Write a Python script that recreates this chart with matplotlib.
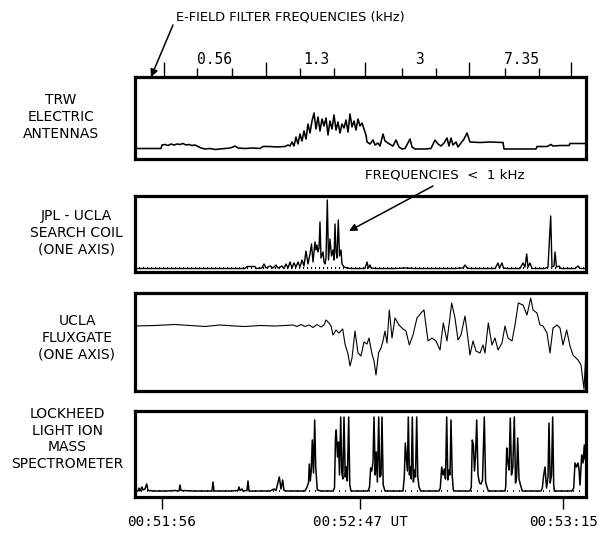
import matplotlib.pyplot as plt
import numpy as np

plt.rcParams['font.family'] = 'DejaVu Sans'

W, H = 600, 533

# --- data (x = position across the panel, y = trace height) ---
trw = np.array([
    (0, 10.5), (26, 10.5), (27, 14), (30, 14.5), (33, 13.5), (36, 15), (39, 14), (42, 15),
    (45, 14.5), (48, 15.5), (51, 14), (54, 14.5), (57, 13.5), (60, 14), (63, 12.5), (66, 11),
    (70, 10), (75, 10.5), (80, 9.5), (85, 10), (90, 10.5), (95, 11), (98, 12), (100, 13),
    (103, 11), (110, 10.5), (118, 11), (125, 10.5), (128, 12.5), (135, 12.5), (142, 12),
    (150, 12.5), (153, 14), (155, 13), (157, 17), (159, 13), (161, 22), (163, 15), (165, 25),
    (167, 18), (169, 28), (171, 20), (173, 35), (175, 26), (177, 38), (179, 46), (181, 30),
    (183, 42), (185, 28), (187, 40), (189, 33), (191, 41), (193, 24), (195, 38), (197, 30),
    (199, 44), (201, 29), (203, 37), (205, 26), (207, 35), (209, 31), (211, 39), (213, 27),
    (215, 45), (217, 32), (219, 38), (221, 29), (223, 40), (225, 33), (227, 36), (229, 30),
    (231, 24), (232, 17), (235, 15), (238, 19), (240, 14), (243, 16), (245, 13), (248, 25),
    (250, 18), (253, 16), (256, 14), (258, 13), (261, 19), (264, 12), (267, 10), (270, 10.5),
    (275, 20), (277, 12), (280, 10), (290, 10), (296, 10.5), (300, 19), (303, 15), (306, 13),
    (309, 16), (312, 21), (314, 13), (316, 21), (318, 14), (321, 17), (323, 12), (326, 16),
    (329, 20), (332, 26), (335, 17), (345, 16.5), (355, 17), (368, 16.5), (369, 10),
    (380, 10), (401, 10), (402, 12.5), (412, 12.5), (416, 14.5), (418, 13), (425, 13.5),
    (434, 13.5), (435, 15.5), (451, 15.5)])

search_coil = np.array([
    (0, 3.5), (110, 3.5), (112, 5.5), (120, 5.5), (121, 3.5), (127, 4), (129, 8), (131, 4),
    (135, 6), (138, 4), (141, 7), (143, 4), (147, 6), (149, 3.5), (151, 8), (153, 4),
    (155, 10), (157, 4), (159, 9), (161, 5), (163, 10), (165, 5), (167, 12), (169, 6),
    (171, 21), (173, 8), (175, 18), (176.5, 28), (178, 10), (180, 30), (181, 22), (182, 27),
    (183, 20), (184, 24), (185, 50), (186, 14), (188, 20), (189, 10), (190, 8), (191, 14),
    (192.3, 72), (193.5, 12), (195, 33), (196.5, 16), (198, 22), (199, 12), (200, 48),
    (201, 20), (202, 14), (203.3, 52), (204.5, 16), (206, 22), (207, 8), (209, 5), (212, 4),
    (216, 3.5), (230, 3.5), (232, 10), (233.5, 4), (235, 7), (236, 4), (240, 3.5),
    (260, 3.5), (270, 4), (280, 3.5), (320, 3.5), (328, 4), (330, 7), (332, 4), (335, 3.5),
    (360, 3.5), (363, 9), (364.5, 4), (367, 9), (368.5, 4), (372, 3.5), (385, 3.5), (388, 9),
    (390, 5), (391.7, 18), (393, 5), (395, 9), (397, 3.5), (410, 3.5), (413, 5),
    (415.7, 56), (417, 5), (419, 6), (420, 20), (421.5, 5), (424, 6), (426, 3.5),
    (440, 3.5), (443, 6), (445, 3.5), (451, 3.5)])

fluxgate = np.array([
    (0, 65), (20, 65.5), (40, 66.5), (55, 65.5), (70, 64.5), (85, 66), (100, 65),
    (110, 64.5), (125, 65.5), (140, 65), (150, 65.5), (158, 66), (162, 64.5), (166, 66.5),
    (170, 64.5), (174, 66), (178, 63.5), (182, 66.5), (186, 64), (189, 66), (191, 71),
    (194, 68), (196, 65), (198, 56), (201, 61), (204, 58), (207.7, 62), (210, 47), (213, 37),
    (215, 25), (217, 33), (220, 60), (223, 38), (226, 35), (229, 49), (232, 47), (234, 53),
    (237, 37), (239, 30), (241, 16), (243.5, 38), (246, 43), (248, 50), (250, 60), (252, 48),
    (254.3, 81), (257, 53), (260, 73), (264, 66), (268, 62), (271, 60), (274.3, 46),
    (278, 56), (282, 73), (286, 78), (289, 81), (293, 50), (297, 53), (301, 50), (305, 41),
    (308.3, 68), (312, 50), (316.7, 88), (320, 73), (323, 51), (326, 56), (330, 75),
    (332, 60), (335, 36), (338, 50), (341, 40), (345, 38), (348, 46), (350, 38),
    (353.3, 68), (357, 46), (360, 53), (363, 41), (367, 48), (370, 65), (373, 53), (377, 50),
    (380, 66), (383.3, 88), (388, 86), (392, 76), (395.7, 93), (398, 81), (402, 78),
    (405, 66), (408, 65), (412, 58), (415, 38), (418, 63), (422, 66), (425, 63), (428, 46),
    (431.7, 61), (435, 45), (438, 36), (443, 31), (446, 26), (449, 2), (451, 41)])

ion_spec = np.array([
    (0, 6), (3, 6), (4, 9), (5, 6), (7, 10), (8, 7), (10, 8), (11.7, 13), (13, 6.5), (20, 6),
    (30, 6), (40, 6.5), (44, 6), (45, 12), (46, 6.5), (60, 6), (77, 6), (78, 15), (79, 6),
    (95, 6), (103, 6.5), (104, 10), (105, 6.5), (107, 8), (108, 6), (112, 6.5), (113, 16),
    (114, 6), (135, 6), (139, 8), (141, 6.5), (144.3, 20), (146, 8), (147.7, 17), (149, 6.5),
    (152, 6), (170, 6), (172, 10), (173.5, 14), (174.3, 33), (175.3, 16), (176.3, 27),
    (177.3, 57), (178.5, 24), (179.7, 77), (180.7, 30), (182.3, 7), (186, 6), (198, 6),
    (199.5, 9), (200.5, 60), (201.2, 67), (202.5, 40), (203.5, 55), (204.5, 22),
    (205.7, 80), (206.8, 25), (207.8, 18), (209, 80), (210.2, 20), (211.2, 30), (212.3, 16),
    (213.7, 80), (214.8, 12), (216, 6), (233, 6), (234.5, 10), (235.7, 29), (236.8, 26),
    (238, 35), (239, 80), (240.2, 22), (241.2, 45), (242.4, 15), (243.7, 80), (244.8, 20),
    (246, 22), (247, 80), (248.2, 12), (250, 6), (268, 6), (269.3, 20), (270.3, 54),
    (271.4, 40), (272.4, 26), (273.3, 80), (274.4, 22), (275.4, 30), (276.3, 18),
    (277.3, 80), (278.4, 15), (279.5, 27), (280.5, 20), (281.7, 80), (282.8, 20), (284, 10),
    (285.7, 6), (304, 6), (305.3, 9), (306.7, 30), (308, 22), (309.4, 28), (310.5, 18),
    (311.7, 80), (312.8, 17), (314, 27), (315, 22), (316, 77), (317.2, 22), (318.3, 7),
    (320, 6), (335, 6), (336.3, 10), (337.3, 57), (338.4, 52), (339.5, 26), (340.5, 40),
    (341.7, 77), (343, 22), (344.5, 14), (346, 13), (347.5, 17), (349.3, 80), (350.6, 15),
    (352, 10), (353.3, 6), (370, 6), (370.7, 10), (371.7, 49), (372.8, 35), (374, 27),
    (375.3, 79), (376.5, 22), (377.8, 30), (379.3, 80), (380.5, 14), (381.6, 20),
    (382.7, 59), (384, 18), (385.5, 12), (387.3, 6), (406, 6), (407.3, 9), (408.7, 22),
    (410, 30), (411.5, 9), (413, 20), (414, 74), (415.2, 14), (416.5, 22), (417.7, 80),
    (418.7, 12), (419.3, 6), (437, 6), (438.7, 9), (440, 34), (441.5, 30), (443, 34),
    (444, 28), (445, 12), (446.7, 42), (448, 34), (449.3, 52), (450, 38), (451, 36)])

# filter-frequency scale along the top
freq_major = [28.5, 130.5, 229.5, 333.5, 436]
freq_minor = [62, 97, 165, 198.5, 267, 301, 370, 403.5]
freq_labels = ['0.56', '1.3', '3', '7.35']

# time ticks along the bottom
time_ticks = [26.7, 225, 428.3]
time_labels = ['00:51:56', '00:52:47 UT', '00:53:15']

panel_names = ['TRW\nELECTRIC\nANTENNAS',
               'JPL - UCLA\nSEARCH COIL\n(ONE AXIS)',
               'UCLA\nFLUXGATE\n(ONE AXIS)',
               'LOCKHEED\nLIGHT ION\nMASS\nSPECTROMETER']
name_pos = [(61, 117), (76, 233), (77, 338), (67, 439)]

# panel boxes in pixels: (top, bottom)
boxes = [(77, 159), (196, 272), (293, 391), (411, 497)]
traces = [trw, search_coil, fluxgate, ion_spec]
widths = [1.15, 1.0, 0.8, 1.1]

fig = plt.figure(figsize=(W / 100, H / 100), dpi=100)
axes = []
for (top, bot), tr, lw in zip(boxes, traces, widths):
    ax = fig.add_axes([135 / W, 1 - bot / H, 451 / W, (bot - top) / H])
    ax.plot(tr[:, 0], tr[:, 1], color='black', lw=lw)
    ax.set_xlim(0, 451)
    ax.set_ylim(0, bot - top)
    ax.set_xticks([])
    ax.set_yticks([])
    for s in ax.spines.values():
        s.set_linewidth(2.3)
    axes.append(ax)

# baseline texture on the search coil and ion traces
axes[1].plot([0, 451], [3.9, 3.9], color='black', lw=1.6, ls=(0, (0.5, 1.3)))
axes[3].plot([0, 451], [5.6, 5.6], color='black', lw=1.2, ls=(0, (0.6, 3)))

# top scale
ax1 = axes[0]
ax1.set_xticks(freq_major)
ax1.set_xticks(freq_minor, minor=True)
ax1.tick_params(which='major', top=True, bottom=False, labeltop=False, labelbottom=False,
                direction='out', length=10.8, width=1.0)
ax1.tick_params(which='minor', top=True, bottom=False, direction='out', length=6.3, width=1.0)
for i, lab in enumerate(freq_labels):
    xm = (freq_minor[2 * i] + freq_minor[2 * i + 1]) / 2
    ax1.text(xm, 1 + 17 / 82, lab, transform=ax1.get_xaxis_transform(), ha='center',
             va='center', family='DejaVu Sans Mono', fontsize=10.5)

# bottom time scale
ax4 = axes[3]
ax4.set_xticks(time_ticks)
ax4.set_xticklabels(time_labels, family='DejaVu Sans Mono', fontsize=10.3)
ax4.tick_params(axis='x', direction='out', length=8.6, width=1.0, pad=4)

for name, (px, py) in zip(panel_names, name_pos):
    fig.text(px / W, 1 - py / H, name, ha='center', va='center', multialignment='center',
             fontsize=10, linespacing=1.25)

fig.text(290 / W, 1 - 17 / H, 'E-FIELD FILTER FREQUENCIES (kHz)', ha='center', va='center',
         fontsize=9.4)
fig.text(445 / W, 1 - 175 / H, 'FREQUENCIES  <  1 kHz', ha='center', va='center',
         fontsize=9.6)

arrow = dict(arrowstyle='-|>', color='black', lw=1.1, mutation_scale=11, shrinkA=0, shrinkB=0)
fig.add_artist(plt.Annotation('', xy=(151 / W, 1 - 77 / H), xytext=(173 / W, 1 - 25 / H),
                              xycoords='figure fraction', arrowprops=arrow))
fig.add_artist(plt.Annotation('', xy=(349 / W, 1 - 231 / H), xytext=(433 / W, 1 - 186 / H),
                              xycoords='figure fraction', arrowprops=arrow))

fig.savefig('out.png', dpi=100, facecolor='white')
